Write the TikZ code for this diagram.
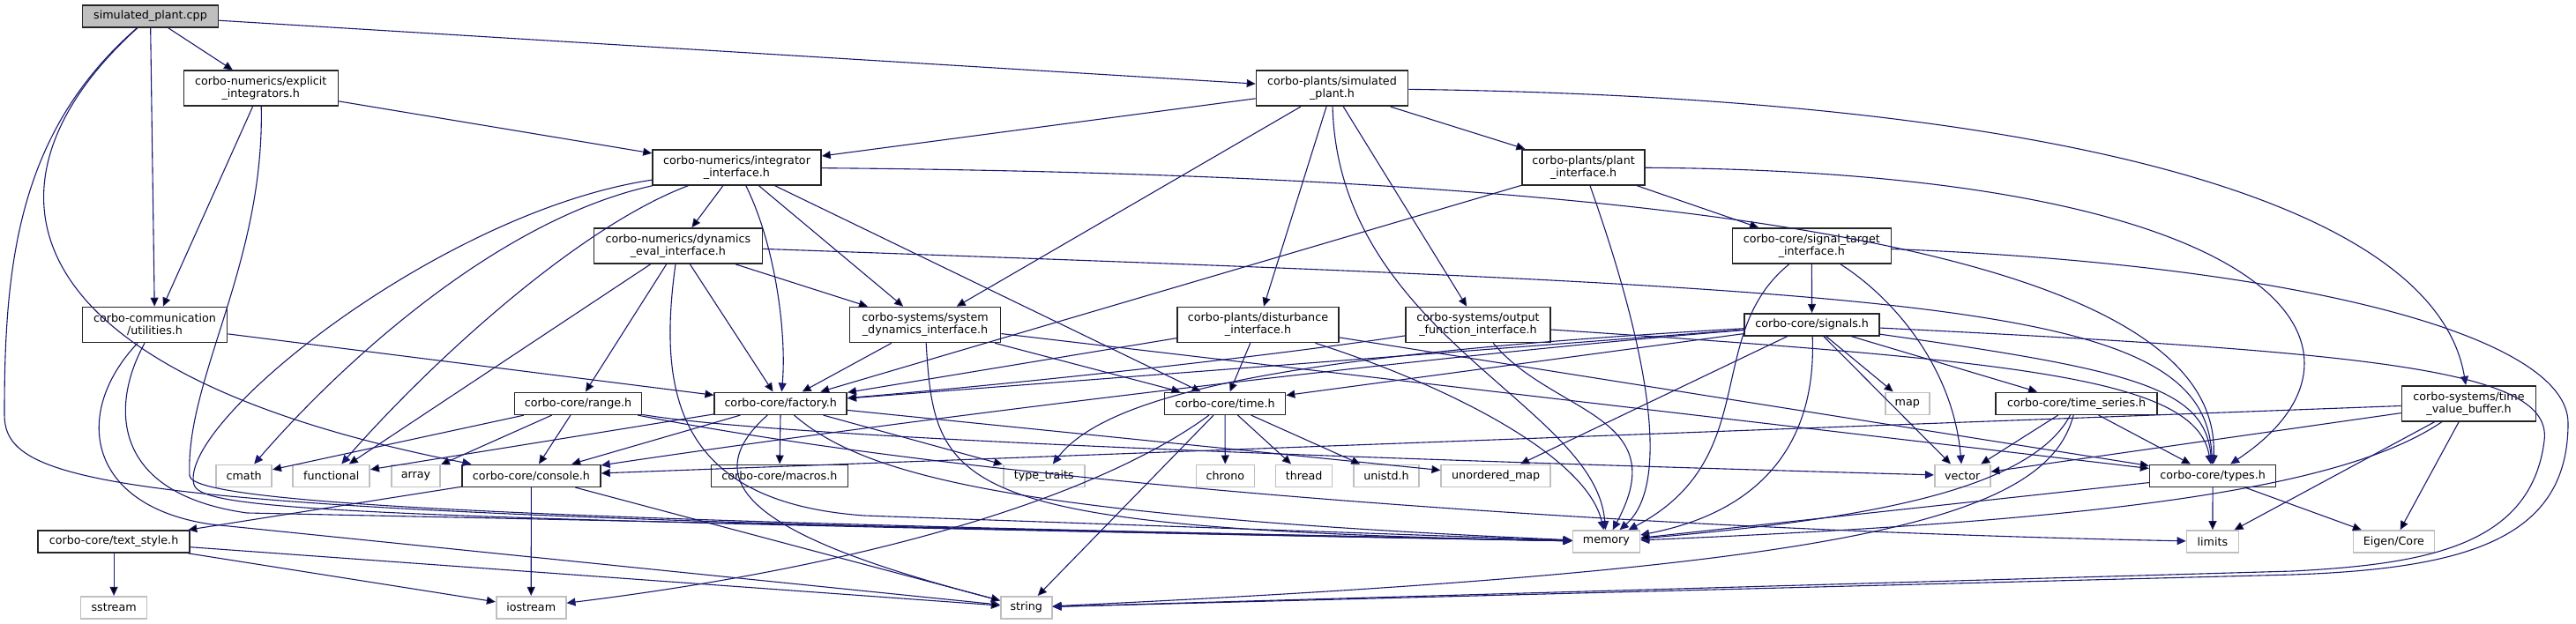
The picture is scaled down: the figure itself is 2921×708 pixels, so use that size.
\documentclass[tikz,border=0pt]{standalone}
\usepackage{fontspec}
\setmainfont{DejaVu Sans}
\usepackage{tikz}
\usetikzlibrary{arrows.meta}

\definecolor{edgeblue}{HTML}{191970}
\definecolor{sysgray}{HTML}{BFBFBF}

\tikzset{
  hdr/.style={rectangle, draw=black!85, line width=1.6pt, fill=white, align=center,
              minimum height=25pt, inner xsep=2pt, inner ysep=2pt,
              font=\fontsize{12.7}{14}\selectfont},
  hdr2/.style={hdr, minimum height=40pt},
  sys/.style={hdr, draw=sysgray},
  root/.style={hdr, fill=sysgray},
  dep/.style={draw=edgeblue, line width=1.1pt, -{Triangle[length=10pt,width=9pt]}}
}

\begin{document}
\begin{tikzpicture}[x=1pt,y=1pt]
  \useasboundingbox (0,0) rectangle (2921,-708);

  \node[root, minimum width=154pt] (cpp)        at (170.5,-18.5)  {simulated\_plant.cpp};
  \node[hdr2, minimum width=175pt] (expl)       at (295.8,-100.3) {corbo-numerics/explicit\\\_integrators.h};
  \node[hdr2, minimum width=172pt] (simh)       at (1510.5,-100.3) {corbo-plants/simulated\\\_plant.h};
  \node[hdr2, minimum width=191pt] (integ)      at (835.5,-189.8) {corbo-numerics/integrator\\\_interface.h};
  \node[hdr2, minimum width=139pt] (plantif)    at (1795.6,-189.8) {corbo-plants/plant\\\_interface.h};
  \node[hdr2, minimum width=191pt] (dyneval)    at (768.9,-279)   {corbo-numerics/dynamics\\\_eval\_interface.h};
  \node[hdr2, minimum width=180pt] (sigtarget)  at (2054.3,-279)  {corbo-core/signal\_target\\\_interface.h};
  \node[hdr2, minimum width=164pt] (util)       at (175.5,-368.5) {corbo-communication\\/utilities.h};
  \node[hdr2, minimum width=171pt] (sysdyn)     at (1049,-368.5)  {corbo-systems/system\\\_dynamics\_interface.h};
  \node[hdr2, minimum width=183pt] (dist)       at (1426.5,-368.5) {corbo-plants/disturbance\\\_interface.h};
  \node[hdr2, minimum width=164pt] (outfn)      at (1676,-368.5)  {corbo-systems/output\\\_function\_interface.h};
  \node[hdr,  minimum width=153pt] (signals)    at (2054.6,-368.3) {corbo-core/signals.h};
  \node[hdr,  minimum width=144pt] (range)      at (655.5,-457.8) {corbo-core/range.h};
  \node[hdr,  minimum width=150pt] (factory)    at (885.2,-457.8) {corbo-core/factory.h};
  \node[hdr,  minimum width=137pt] (time)       at (1389,-457.8)  {corbo-core/time.h};
  \node[sys,  minimum width=50pt]  (map)        at (2162.8,-457.8) {map};
  \node[hdr,  minimum width=183pt] (tseries)    at (2354.6,-457.8) {corbo-core/time\_series.h};
  \node[hdr2, minimum width=152pt] (tvbuf)      at (2799.5,-457.7) {corbo-systems/time\\\_value\_buffer.h};
  \node[sys,  minimum width=63pt]  (cmath)      at (276.7,-539.8) {cmath};
  \node[sys,  minimum width=87pt]  (functional) at (375.7,-539.8) {functional};
  \node[sys,  minimum width=55pt]  (array)      at (471.6,-539.8) {array};
  \node[hdr,  minimum width=157pt] (console)    at (602.4,-539.8) {corbo-core/console.h};
  \node[hdr,  minimum width=155pt] (macros)     at (883.9,-539.8) {corbo-core/macros.h};
  \node[sys,  minimum width=92pt]  (typetraits) at (1183.7,-539.8) {type\_traits};
  \node[sys,  minimum width=66pt]  (chrono)     at (1389.3,-539.8) {chrono};
  \node[sys,  minimum width=64pt]  (thread)     at (1478.6,-539.8) {thread};
  \node[sys,  minimum width=74pt]  (unistd)     at (1572,-539.8)  {unistd.h};
  \node[sys,  minimum width=124pt] (umap)       at (1696.2,-539.8) {unordered\_map};
  \node[sys,  minimum width=63pt]  (vector)     at (2225.2,-539.8) {vector};
  \node[hdr,  minimum width=143pt] (types)      at (2509.1,-539.8) {corbo-core/types.h};
  \node[hdr,  minimum width=172pt] (textstyle)  at (129.1,-614.5) {corbo-core/text\_style.h};
  \node[sys,  minimum width=76pt]  (memory)     at (1821.4,-614.5) {memory};
  \node[sys,  minimum width=59pt]  (limits)     at (2508.9,-614.5) {limits};
  \node[sys,  minimum width=92pt]  (eigen)      at (2714.4,-614.5) {Eigen/Core};
  \node[sys,  minimum width=75pt]  (sstream)    at (129.1,-689.2) {sstream};
  \node[sys,  minimum width=79pt]  (iostream)   at (602.2,-689.2) {iostream};
  \node[sys,  minimum width=58pt]  (string)     at (1163.8,-689.2) {string};

  \path[dep] (cpp) edge (expl) edge (simh) edge (util);
  \draw[dep] (cpp) .. controls (-30,-200) and (-10,-420) .. (console);
  \draw[dep] (cpp) .. controls (20,-150) and (5,-300) .. (5,-470)
                   .. controls (5,-560) and (150,-585) .. (memory);

  \path[dep] (expl) edge (integ) edge (util);
  \draw[dep] (expl) .. controls (300,-300) and (210,-430) .. (215,-540)
                    .. controls (220,-575) and (700,-592) .. (memory);

  \path[dep] (simh) edge (integ) edge (sysdyn) edge (dist) edge (outfn) edge (plantif);
  \draw[dep] (simh) .. controls (1518,-380) and (1810,-460) .. (memory);
  \draw[dep] (simh) .. controls (2300,-110) and (2760,-220) .. (tvbuf);

  \path[dep] (integ) edge (dyneval) edge (sysdyn) edge (time);
  \draw[dep] (integ) .. controls (880,-280) and (892,-380) .. (factory);
  \draw[dep] (integ) .. controls (2000,-200) and (2520,-300) .. (types);
  \draw[dep] (integ) .. controls (500,-240) and (200,-480) .. (220,-550)
                     .. controls (230,-580) and (400,-588) .. (memory);
  \draw[dep] (integ) .. controls (560,-250) and (380,-420) .. (cmath);
  \draw[dep] (integ) .. controls (650,-260) and (480,-420) .. (functional);

  \path[dep] (dyneval) edge (sysdyn) edge (factory) edge (range) edge (functional);
  \draw[dep] (dyneval) .. controls (2200,-330) and (2500,-340) .. (types);
  \draw[dep] (dyneval) .. controls (745,-450) and (770,-570) .. (980,-585) -- (memory);

  \path[dep] (plantif) edge (factory) edge (sigtarget);
  \draw[dep] (plantif) .. controls (1870,-400) and (1895,-550) .. (memory);
  \draw[dep] (plantif) .. controls (2600,-195) and (2720,-400) .. (types);

  \path[dep] (sigtarget) edge (signals);
  \draw[dep] (sigtarget) .. controls (2150,-340) and (2215,-420) .. (vector);
  \draw[dep] (sigtarget) .. controls (1930,-380) and (2000,-520) .. (memory);
  \draw[dep] (sigtarget) .. controls (2600,-300) and (2912,-380) .. (2912,-480)
                         .. controls (2912,-610) and (2800,-645) .. (2600,-652) -- (string);

  \path[dep] (util) edge (factory);
  \draw[dep] (util) .. controls (125,-460) and (125,-560) .. (280,-582) -- (memory);
  \draw[dep] (util) .. controls (80,-470) and (100,-575) .. (240,-595) -- (string);

  \path[dep] (sysdyn) edge (factory) edge (time) edge (types);
  \draw[dep] (sysdyn) .. controls (1060,-560) and (1080,-600) .. (memory);

  \path[dep] (dist) edge (factory) edge (time) edge (types);
  \draw[dep] (dist) .. controls (1650,-440) and (1800,-520) .. (memory);

  \draw[dep] (outfn) .. controls (1400,-410) and (1100,-440) .. (factory);
  \draw[dep] (outfn) .. controls (1760,-470) and (1900,-470) .. (memory);
  \draw[dep] (outfn) .. controls (2300,-410) and (2490,-430) .. (types);

  \path[dep] (signals) edge (factory) edge (time) edge (umap) edge (vector)
                       edge (map) edge (tseries);
  \draw[dep] (signals) .. controls (1600,-405) and (1000,-480) .. (console);
  \draw[dep] (signals) .. controls (1500,-400) and (1260,-440) .. (typetraits);
  \draw[dep] (signals) .. controls (2060,-500) and (2000,-580) .. (memory);
  \draw[dep] (signals) .. controls (2420,-420) and (2500,-440) .. (types);
  \draw[dep] (signals) .. controls (2700,-400) and (2895,-420) .. (2885,-500)
                       .. controls (2870,-620) and (2750,-640) .. (2600,-648) -- (string);

  \path[dep] (tvbuf) edge (console) edge (vector) edge (limits) edge (eigen);
  \draw[dep] (tvbuf) .. controls (2650,-560) and (2350,-592) .. (memory);

  \path[dep] (range) edge (cmath) edge (array) edge (console);
  \draw[dep] (range) .. controls (900,-500) and (1700,-525) .. (vector);
  \draw[dep] (range) .. controls (1100,-545) and (1800,-600) .. (limits);

  \path[dep] (factory) edge (functional) edge (console) edge (macros) edge (typetraits) edge (umap);
  \draw[dep] (factory) .. controls (770,-560) and (900,-620) .. (string);
  \draw[dep] (factory) .. controls (980,-540) and (1150,-585) .. (memory);

  \path[dep] (time) edge (string) edge (chrono) edge (thread) edge (unistd);
  \draw[dep] (time) .. controls (1250,-560) and (1000,-640) .. (iostream);

  \path[dep] (tseries) edge (vector) edge (types);
  \draw[dep] (tseries) .. controls (2300,-560) and (2100,-590) .. (memory);
  \draw[dep] (tseries) .. controls (2320,-590) and (2100,-645) .. (string);

  \path[dep] (console) edge (textstyle) edge (iostream) edge (string);
  \path[dep] (types) edge (memory) edge (limits) edge (eigen);
  \path[dep] (textstyle) edge (sstream) edge (iostream) edge (string);
\end{tikzpicture}
\end{document}
